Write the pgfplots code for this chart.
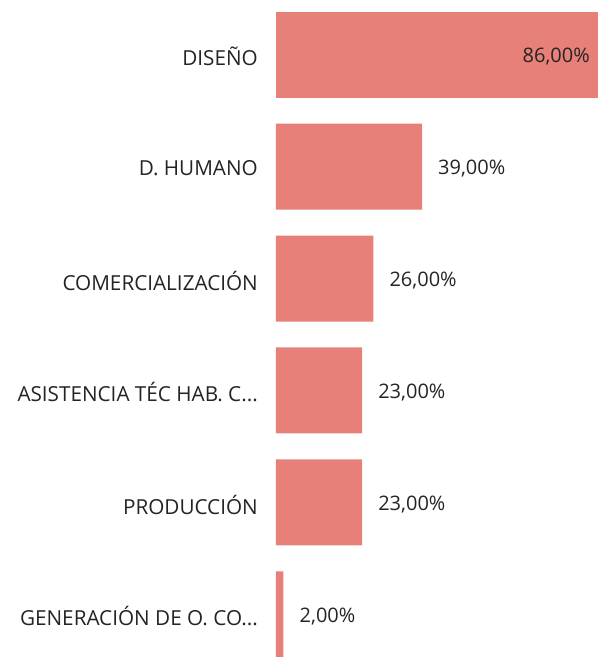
\documentclass[border=0pt]{standalone}
\usepackage{fontspec}
\setmainfont{Open Sans}
\usepackage{pgfplots}
\pgfplotsset{compat=1.18}
\usetikzlibrary{calc}
\definecolor{barc}{HTML}{E8807A}
\definecolor{txt}{HTML}{252423}
\begin{document}
\begin{tikzpicture}
\begin{axis}[
    name=ax,
    scale only axis,
    width=322pt, height=645pt,
    xbar, bar shift=0pt, bar width=0.768,
    xmin=0, xmax=86,
    ymin=-0.38, ymax=5.38,
    y dir=reverse,
    axis line style={draw=none},
    xtick=\empty,
    ytick={0,1,2,3,4,5},
    yticklabels={DISEÑO, D. HUMANO, COMERCIALIZACIÓN, {ASISTENCIA TÉC HAB. C{.}{.}{.}}, PRODUCCIÓN, {GENERACIÓN DE O. CO{.}{.}{.}}},
    major tick length=0pt,
    yticklabel style={font=\fontsize{20.7}{24}\selectfont, text=txt, inner sep=0pt, xshift=-18pt, yshift=-2pt},
    clip=false,
    point meta=explicit symbolic,
    nodes near coords,
    nodes near coords style={font=\fontsize{20}{24}\selectfont, text=txt, inner sep=0pt, yshift=-2pt},
]
\addplot[fill=barc, draw=none, nodes near coords style={anchor=east, xshift=-8pt}]
    coordinates {(86,0) [86,00\%]};
\addplot[fill=barc, draw=none, nodes near coords style={anchor=west, xshift=16pt}]
    coordinates {(39,1) [39,00\%] (26,2) [26,00\%] (23,3) [23,00\%] (23,4) [23,00\%] (2,5) [2,00\%]};
\end{axis}
\pgfresetboundingbox
\useasboundingbox ($(ax.south west)+(-276pt,0)$) rectangle ($(ax.north east)+(0,12pt)$);
\end{tikzpicture}
\end{document}
